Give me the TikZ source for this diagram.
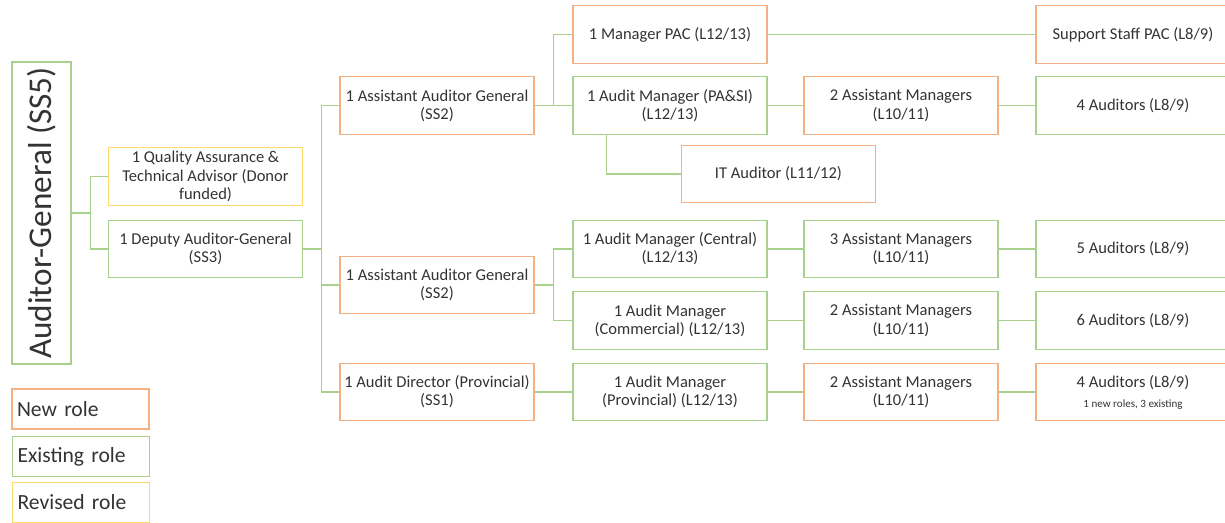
\documentclass[tikz,border=0pt]{standalone}
\usepackage{fontspec}
\setmainfont{Carlito}

\definecolor{newrole}{HTML}{F4B183}
\definecolor{oldrole}{HTML}{A9D18E}
\definecolor{revrole}{HTML}{FFD966}
\definecolor{inktext}{HTML}{333333}

\begin{document}
\begin{tikzpicture}[
    x=0.02cm, y=-0.02cm,
    % Role boxes, one per colour code
    role/.style={rectangle, draw, minimum width=3.88cm, minimum height=1.15cm, inner sep=2pt, align=center, text=inktext, font=\fontsize{9.4}{10.3}\selectfont, line width=0.8pt},
    newbox/.style={role, draw=newrole},
    oldbox/.style={role, draw=oldrole},
    revbox/.style={role, draw=revrole},
    % Legend boxes
    keybox/.style={rectangle, draw, text width=2.54cm, minimum height=0.8cm, inner xsep=0.1cm, align=left, text=inktext, font=\fontsize{12.3}{14}\selectfont, line width=0.8pt},
    % Reporting lines
    link/.style={draw=oldrole, line width=0.7pt}
]
    \useasboundingbox (0,0) rectangle (1225,523);

    % --- TOP ---
    \node[oldbox, rotate=90, minimum width=6.04cm, minimum height=1.18cm, font=\fontsize{18.9}{22}\selectfont] (AG) at (41.5,213) {Auditor-General (SS5)};
    \node[revbox] (QA) at (205.5,176.5) {1 Quality Assurance \&\\Technical Advisor (Donor\\funded)};
    \node[oldbox] (DAG) at (205.5,249) {1 Deputy Auditor-General\\(SS3)};

    \draw[link] (AG.south) -- ++(19,0) |- (QA.west);
    \draw[link] (AG.south) -- ++(19,0) |- (DAG.west);

    % --- DIRECTORS ---
    \node[newbox] (AAG1) at (437,105.5) {1 Assistant Auditor General\\(SS2)};
    \node[newbox] (AAG2) at (437,285) {1 Assistant Auditor General\\(SS2)};
    \node[newbox] (ADP) at (437,392) {1 Audit Director (Provincial)\\(SS1)};

    \draw[link] (DAG.east) -- ++(18,0) |- (AAG1.west);
    \draw[link] (DAG.east) -- ++(18,0) |- (AAG2.west);
    \draw[link] (DAG.east) -- ++(18,0) |- (ADP.west);

    % --- MANAGERS ---
    \node[newbox] (MPAC) at (670,34.5) {1 Manager PAC (L12/13)};
    \node[oldbox] (AMPA) at (670,105.5) {1 Audit Manager (PA\&SI)\\(L12/13)};
    \node[newbox] (ITA) at (778.5,174) {IT Auditor (L11/12)};
    \node[oldbox] (AMC) at (670,249) {1 Audit Manager (Central)\\(L12/13)};
    \node[oldbox] (AMCO) at (670,320.5) {1 Audit Manager\\(Commercial) (L12/13)};
    \node[oldbox] (AMP) at (670,392) {1 Audit Manager\\(Provincial) (L12/13)};

    \draw[link] (AAG1.east) -- ++(19,0) |- (MPAC.west);
    \draw[link] (AAG1.east) -- ++(19,0) |- (AMPA.west);
    \draw[link] ([xshift=0.68cm]AMPA.south west) |- (ITA.west);
    \draw[link] (AAG2.east) -- ++(19,0) |- (AMC.west);
    \draw[link] (AAG2.east) -- ++(19,0) |- (AMCO.west);
    \draw[link] (ADP) -- (AMP);

    % --- ASSISTANT MANAGERS ---
    \node[newbox] (ASM1) at (901,105.5) {2 Assistant Managers\\(L10/11)};
    \node[oldbox] (ASM2) at (901,249) {3 Assistant Managers\\(L10/11)};
    \node[oldbox] (ASM3) at (901,320.5) {2 Assistant Managers\\(L10/11)};
    \node[newbox] (ASM4) at (901,392) {2 Assistant Managers\\(L10/11)};

    \draw[link] (AMPA) -- (ASM1);
    \draw[link] (AMC) -- (ASM2);
    \draw[link] (AMCO) -- (ASM3);
    \draw[link] (AMP) -- (ASM4);

    % --- STAFF ---
    \node[newbox] (SSP) at (1133,34.5) {Support Staff PAC (L8/9)};
    \node[oldbox] (AUD1) at (1133,105.5) {4 Auditors (L8/9)};
    \node[oldbox] (AUD2) at (1133,249) {5 Auditors (L8/9)};
    \node[oldbox] (AUD3) at (1133,320.5) {6 Auditors (L8/9)};
    \node[newbox] (AUD4) at (1133,392) {4 Auditors (L8/9)\\[1pt]{\fontsize{6.3}{7}\selectfont 1 new roles, 3 existing}};

    \draw[link] (MPAC) -- (SSP);
    \draw[link] (ASM1) -- (AUD1);
    \draw[link] (ASM2) -- (AUD2);
    \draw[link] (ASM3) -- (AUD3);
    \draw[link] (ASM4) -- (AUD4);

    % --- LEGEND ---
    \node[keybox, draw=newrole] (KNEW) at (80.5,409) {New role};
    \node[keybox, draw=oldrole] (KOLD) at (81,456.5) {Existing role};
    \node[keybox, draw=revrole] (KREV) at (81,502.5) {Revised role};

\end{tikzpicture}
\end{document}
